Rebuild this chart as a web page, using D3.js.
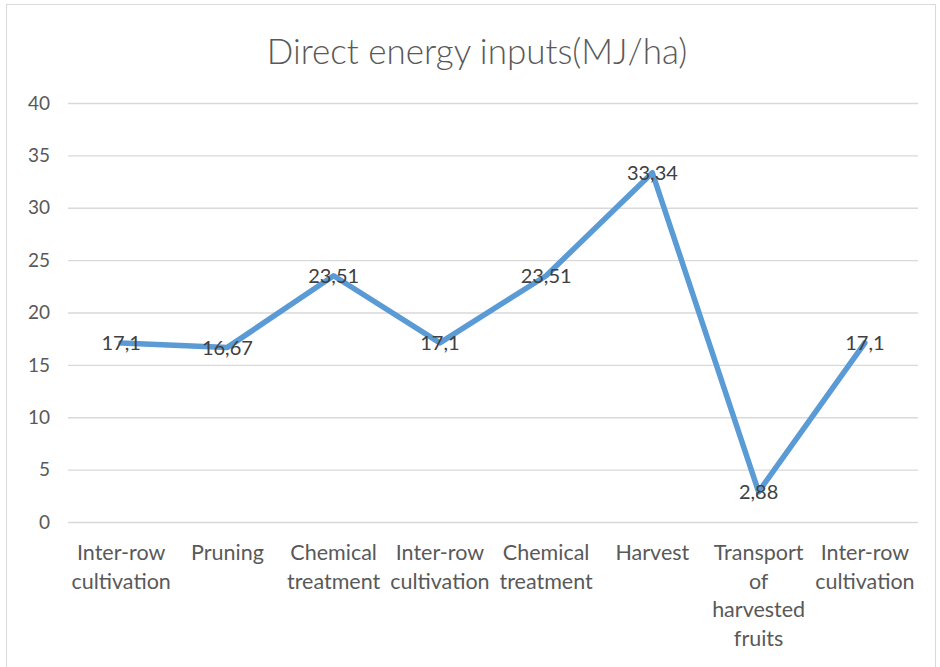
<!DOCTYPE html>
<html>
<head>
<meta charset="utf-8">
<script src="https://cdn.jsdelivr.net/npm/d3@7"></script>
<style>
  body { margin: 0; background: #fff; }
  svg { font-family: Lato, "Open Sans", sans-serif; }
  .grid line { stroke: #d9d9d9; stroke-width: 1.3; }
  .tick-label { fill: #595959; font-size: 19px; }
  .cat-label { fill: #595959; font-size: 21.5px; }
  .val-label { fill: #404040; font-size: 20px; }
</style>
</head>
<body>
<div id="chart"></div>
<script>
// data
var categories = [
  ['Inter-row', 'cultivation'],
  ['Pruning'],
  ['Chemical', 'treatment'],
  ['Inter-row', 'cultivation'],
  ['Chemical', 'treatment'],
  ['Harvest'],
  ['Transport', 'of', 'harvested', 'fruits'],
  ['Inter-row', 'cultivation']
];
var values = [17.1, 16.67, 23.51, 17.1, 23.51, 33.34, 2.88, 17.1];
var valueLabels = ['17,1', '16,67', '23,51', '17,1', '23,51', '33,34', '2,88', '17,1'];
var yTicks = [0, 5, 10, 15, 20, 25, 30, 35, 40];
var title = 'Direct energy inputs(MJ/ha)';

var width = 940, height = 667;
var margin = { top: 103, right: 22, bottom: 145, left: 68 };
var chartWidth = width - margin.left - margin.right,
    chartHeight = height - margin.top - margin.bottom;

var svg = d3.select('#chart').append('svg')
    .attr('width', width)
    .attr('height', height);

// outer frame
svg.append('rect')
    .attr('x', 6.5).attr('y', 4.5)
    .attr('width', 929).attr('height', 670)
    .attr('fill', 'none')
    .attr('stroke', '#d9d9d9')
    .attr('stroke-width', 1);

svg.append('text')
    .attr('x', 477)
    .attr('y', 64)
    .attr('text-anchor', 'middle')
    .attr('fill', '#595959')
    .style('font-size', '35px')
    .style('font-weight', 300)
    .text(title);

var g = svg.append('g')
    .attr('transform', 'translate(' + margin.left + ',' + margin.top + ')');

var x = d3.scaleBand()
    .domain(d3.range(categories.length))
    .range([0, chartWidth]);
var y = d3.scaleLinear()
    .domain([0, 40])
    .range([chartHeight, 0]);

// gridlines
var yAxis = d3.axisLeft(y).tickValues(yTicks).tickSize(-chartWidth).tickFormat('');
var grid = g.append('g').attr('class', 'grid').call(yAxis);
grid.select('.domain').remove();

g.selectAll('.tick-label')
    .data(yTicks)
    .enter().append('text')
    .attr('class', 'tick-label')
    .attr('x', -18)
    .attr('y', function (d) { return y(d); })
    .attr('dy', '0.35em')
    .attr('text-anchor', 'end')
    .text(function (d) { return d; });

// category labels
var cat = g.selectAll('.cat-label')
    .data(categories)
    .enter().append('text')
    .attr('class', 'cat-label')
    .attr('text-anchor', 'middle')
    .attr('transform', function (d, i) {
        return 'translate(' + (x(i) + x.bandwidth() / 2) + ',' + (chartHeight + 38) + ')';
    });
cat.selectAll('tspan')
    .data(function (d) { return d; })
    .enter().append('tspan')
    .attr('x', 0)
    .attr('y', function (d, i) { return i * 28.7; })
    .text(function (d) { return d; });

// line
var line = d3.line()
    .x(function (d, i) { return x(i) + x.bandwidth() / 2; })
    .y(function (d) { return y(d); });
g.append('path')
    .datum(values)
    .attr('d', line)
    .attr('fill', 'none')
    .attr('stroke', '#5b9bd5')
    .attr('stroke-width', 5.5)
    .attr('stroke-linejoin', 'round')
    .attr('stroke-linecap', 'round');

// value labels
g.selectAll('.val-label')
    .data(values)
    .enter().append('text')
    .attr('class', 'val-label')
    .attr('text-anchor', 'middle')
    .attr('x', function (d, i) { return x(i) + x.bandwidth() / 2; })
    .attr('y', function (d) { return y(d); })
    .attr('dy', '0.38em')
    .text(function (d, i) { return valueLabels[i]; });
</script>
</body>
</html>
